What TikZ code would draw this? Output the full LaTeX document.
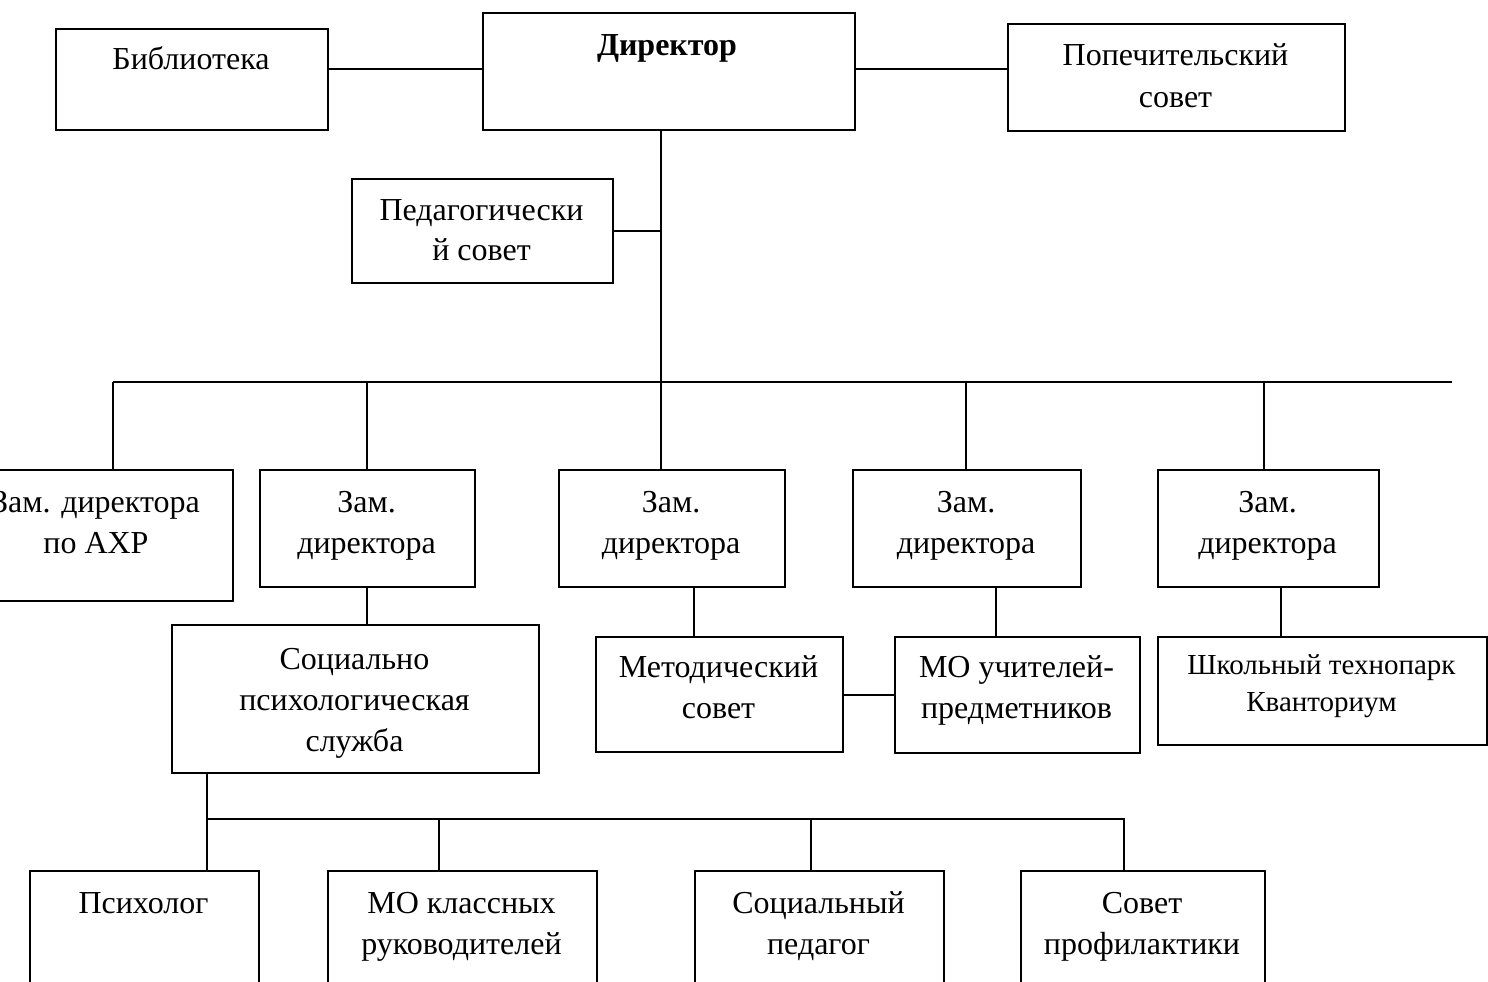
\documentclass[tikz,border=0pt]{standalone}
\usepackage{fontspec}
\setmainfont{Liberation Serif}
\begin{document}
\begin{tikzpicture}[x=1pt,y=-1pt,
  box/.style={draw=black,line width=2pt,anchor=north west,inner sep=0pt,fill=white},
  txt/.style={font=\fontsize{32}{41}\selectfont,align=center,inner sep=0pt,anchor=north},
  stxt/.style={font=\fontsize{29}{37}\selectfont,align=center,inner sep=0pt,anchor=north},
  link/.style={draw=black,line width=2pt},
  bus/.style={draw=black,line width=2.6pt}]
\useasboundingbox (0,0) rectangle (1488,982);
\clip (0,0) rectangle (1488,982);
\fill[white] (0,0) rectangle (1488,982);
% boxes
\node[box,minimum width=272pt,minimum height=101pt] (lib) at (55,28) {};
\node[box,minimum width=372pt,minimum height=117pt] (dir) at (482,12) {};
\node[box,minimum width=337pt,minimum height=107pt] (pop) at (1007,23) {};
\node[box,minimum width=261pt,minimum height=104pt] (ped) at (351,178) {};
\node[box,minimum width=272pt,minimum height=131pt] (z1) at (-40,469) {};
\node[box,minimum width=215pt,minimum height=117pt] (z2) at (259,469) {};
\node[box,minimum width=226pt,minimum height=117pt] (z3) at (558,469) {};
\node[box,minimum width=228pt,minimum height=117pt] (z4) at (852,469) {};
\node[box,minimum width=221pt,minimum height=117pt] (z5) at (1157,469) {};
\node[box,minimum width=367pt,minimum height=148pt] (soc) at (171,624) {};
\node[box,minimum width=247pt,minimum height=115pt] (met) at (595,636) {};
\node[box,minimum width=245pt,minimum height=116pt] (mou) at (894,636) {};
\node[box,minimum width=329pt,minimum height=108pt] (shk) at (1157,636) {};
\node[box,minimum width=229pt,minimum height=140pt] (psy) at (29,870) {};
\node[box,minimum width=269pt,minimum height=140pt] (mok) at (327,870) {};
\node[box,minimum width=249pt,minimum height=140pt] (spd) at (694,870) {};
\node[box,minimum width=244pt,minimum height=140pt] (sov) at (1020,870) {};
% texts
\node[txt] (libt) at (191,40.3) {\strut Библиотека};
\node[txt,font=\fontsize{32}{41}\selectfont\bfseries] (dirt) at (667,26.3) {\strut Директор};
\node[txt,font=\fontsize{32}{42}\selectfont] (popt) at (1175.5,35.6) {\strut Попечительский\\совет};
\node[txt,font=\fontsize{32}{40}\selectfont] (pedt) at (481.5,191.9) {\strut Педагогически\\й совет};
\node[txt] (z1t) at (96,483.3) {\strut Зам. директора\\по АХР};
\node[txt] (z2t) at (366.5,483.3) {\strut Зам.\\директора};
\node[txt] (z3t) at (671,483.3) {\strut Зам.\\директора};
\node[txt] (z4t) at (966,483.3) {\strut Зам.\\директора};
\node[txt] (z5t) at (1267.5,483.3) {\strut Зам.\\директора};
\node[txt] (soct) at (354.5,640.3) {\strut Социально\\психологическая\\служба};
\node[txt] (mett) at (718.5,648.3) {\strut Методический\\совет};
\node[txt] (mout) at (1016.5,648.3) {\strut МО учителей-\\предметников};
\node[stxt] (shkt) at (1321.5,648.5) {\strut Школьный технопарк\\Кванториум};
\node[txt] (psyt) at (143.5,884.3) {\strut Психолог};
\node[txt] (mokt) at (461.5,884.3) {\strut МО классных\\руководителей};
\node[txt] (spdt) at (818.5,884.3) {\strut Социальный\\педагог};
\node[txt] (sovt) at (1142,884.3) {\strut Совет\\профилактики};
% helper coordinates
\coordinate (yl) at (0,69.3);
\coordinate (bt) at (661,382);
\coordinate (busL) at (113,382);
\coordinate (busR) at (1452,382);
\coordinate (d2) at (367,382);
\coordinate (d4) at (965.6,382);
\coordinate (d5) at (1263.7,382);
\coordinate (c3) at (694,600);
\coordinate (c4) at (995.5,600);
\coordinate (c5) at (1281,600);
\coordinate (b2L) at (207,819);
\coordinate (b2R) at (1124,819);
\coordinate (e2) at (439,819);
\coordinate (e3) at (811.4,819);
% connectors
\draw[link] (lib.east|-yl) -- (dir.west|-yl);
\draw[link] (dir.east|-yl) -- (pop.west|-yl);
\draw[link] (dir.south-|bt) -- (bt);
\draw[link] (ped.east) -- (ped.east-|bt);
\draw[bus] (busL) -- (busR);
\draw[link] (busL) -- (busL|-z1.north);
\draw[link] (d2) -- (d2|-z2.north);
\draw[link] (bt) -- (bt|-z3.north);
\draw[link] (d4) -- (d4|-z4.north);
\draw[link] (d5) -- (d5|-z5.north);
\draw[link] (z2.south-|d2) -- (d2|-soc.north);
\draw[link] (z3.south-|c3) -- (c3|-met.north);
\draw[link] (z4.south-|c4) -- (c4|-mou.north);
\draw[link] (z5.south-|c5) -- (c5|-shk.north);
\draw[link] (met.east) -- (met.east-|mou.west);
\draw[link] (soc.south-|b2L) -- (b2L|-psy.north);
\draw[link] (b2L) -- (b2R) -- (b2R|-sov.north);
\draw[link] (e2) -- (e2|-mok.north);
\draw[link] (e3) -- (e3|-spd.north);
\end{tikzpicture}
\end{document}
